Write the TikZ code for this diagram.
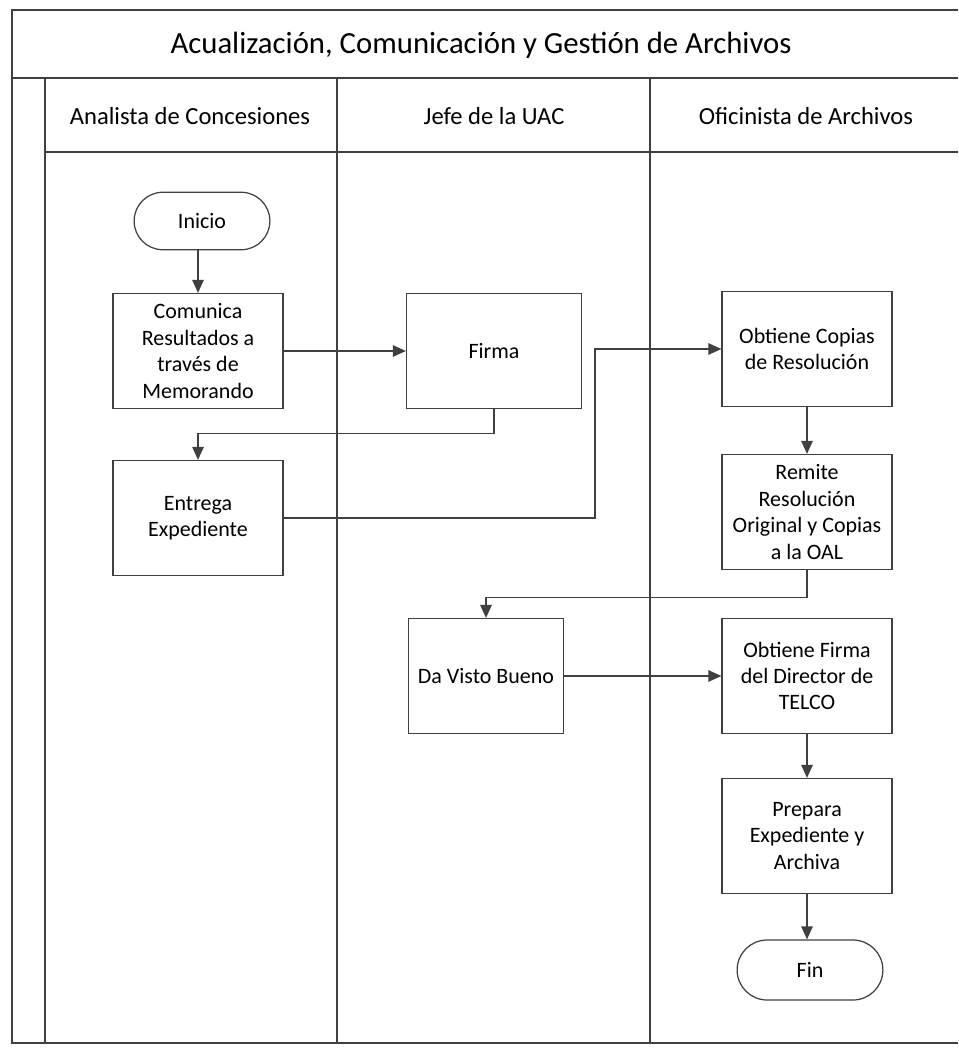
\documentclass[tikz,border=0pt]{standalone}
\usepackage{fontspec}
\setmainfont{Carlito}
\usepackage{tikz}
\usetikzlibrary{arrows.meta,positioning,shapes.misc,calc}
\usepackage{xcolor}
\definecolor{lineagray}{rgb}{0.25,0.25,0.25}
\tikzset{
  paso/.style   ={rectangle, draw=lineagray, fill=white, align=center,
                  font=\fontsize{12.5}{15}\selectfont, line width=0.7pt,
                  minimum width=34mm, minimum height=23mm, inner sep=2pt},
  term/.style   ={rounded rectangle, draw=lineagray, fill=white, align=center,
                  font=\fontsize{12.5}{15}\selectfont, line width=0.7pt,
                  minimum width=29.5mm, minimum height=11.5mm},
  carril/.style ={draw=lineagray, line width=0.6pt},
  encab/.style  ={font=\fontsize{14}{16}\selectfont},
  flujo/.style  ={-{Triangle[length=2.6mm,width=2.3mm]}, line width=0.7pt, draw=lineagray},
}

\begin{document}
\begin{tikzpicture}[x=0.2mm, y=-0.2mm]
  \useasboundingbox (0,0) rectangle (958,1057);
  % marco y carriles
  \draw[carril] (958,10) -- (12,10) -- (12,1043) -- (958,1043);
  \draw[carril] (12,78) -- (958,78);
  \draw[carril] (45,152) -- (958,152);
  \draw[carril] (45,78) -- (45,1043);
  \draw[carril] (337,78) -- (337,1043);
  \draw[carril] (650,78) -- (650,1043);
  \node[font=\fontsize{17.5}{20}\selectfont] (titulo) at (481,45)
    {Acualización, Comunicación y Gestión de Archivos};
  \node[encab] (hAnalista) at (190,116) {Analista de Concesiones};
  \node[encab] (hJefe)     at (494,116) {Jefe de la UAC};
  \node[encab] (hOfic)     at (806,116) {Oficinista de Archivos};
  % pasos
  \node[term]                 (inicio)   at (202,221) {Inicio};
  \node[paso]                 (comunica) at (198,351) {Comunica\\Resultados a\\través de\\Memorando};
  \node[paso, minimum width=35mm] (firma) at (494,351) {Firma};
  \node[paso]                 (entrega)  at (198,518) {Entrega\\Expediente};
  \node[paso]                 (copias)   at (807,349) {Obtiene Copias\\de Resolución};
  \node[paso]                 (remite)   at (807,512) {Remite\\Resolución\\Original y Copias\\a la OAL};
  \node[paso, minimum width=31mm] (visto) at (486,676) {Da Visto Bueno};
  \node[paso]                 (firmadir) at (807,676) {Obtiene Firma\\del Director de\\TELCO};
  \node[paso]                 (prepara)  at (807,836) {Prepara\\Expediente y\\Archiva};
  \node[term, minimum width=31.5mm, minimum height=12mm] (fin) at (810,970) {Fin};
  \coordinate (jog1) at (595,0);
  % conectores
  \draw[flujo] (inicio.south -| comunica) -- (comunica);
  \draw[flujo] (comunica) -- (firma);
  \draw[flujo] (firma.south) -- ++(0,24) -| (entrega.north);
  \draw[flujo] (entrega.east) -- (entrega.east -| jog1) |- (copias.west);
  \draw[flujo] (copias) -- (remite);
  \draw[flujo] (remite.south) -- ++(0,27) -| (visto.north);
  \draw[flujo] (visto) -- (firmadir);
  \draw[flujo] (firmadir) -- (prepara);
  \draw[flujo] (prepara) -- (fin.north -| prepara);
\end{tikzpicture}
\end{document}
